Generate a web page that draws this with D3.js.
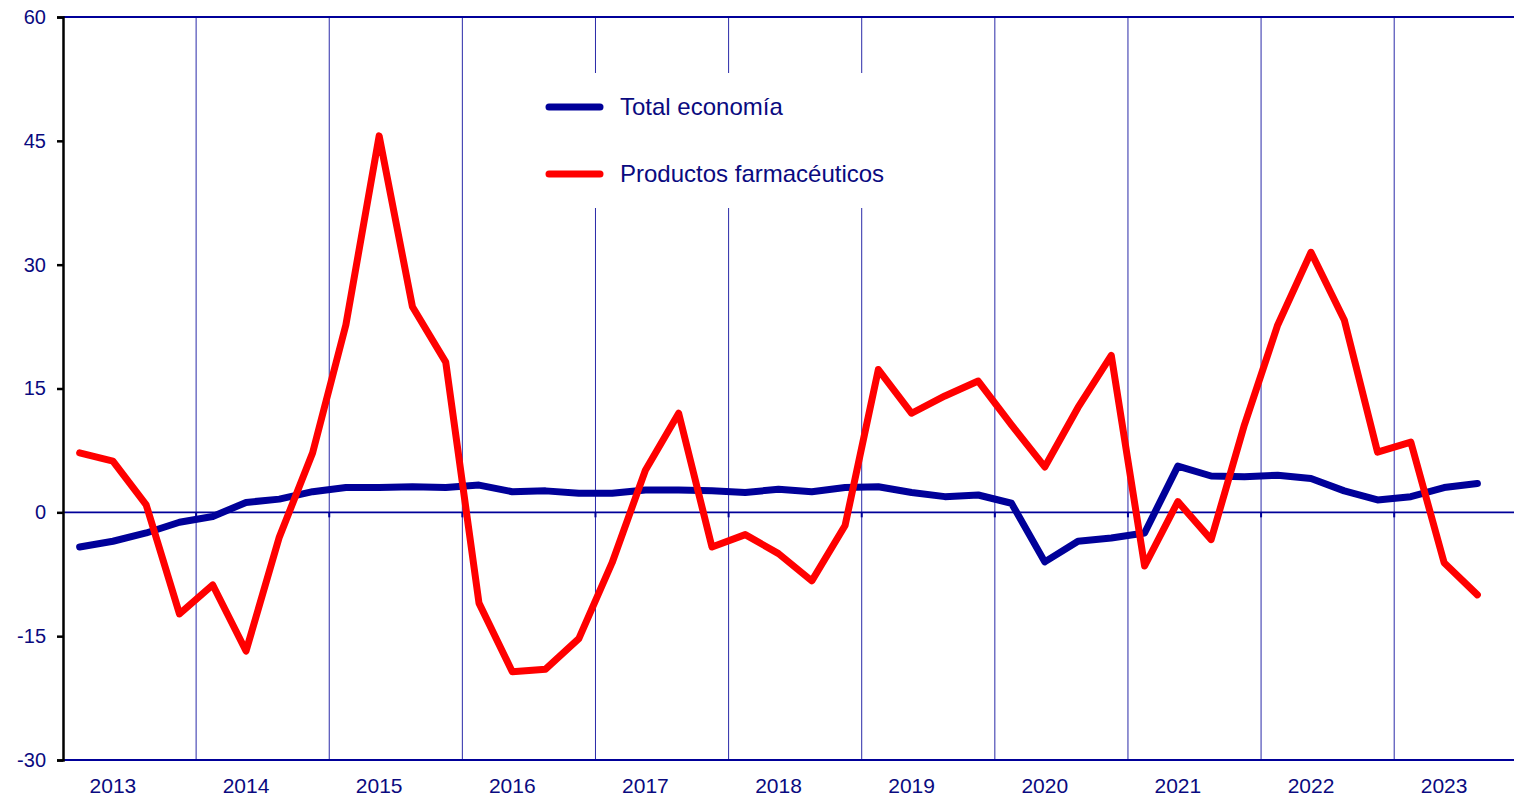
<!DOCTYPE html>
<html><head><meta charset="utf-8">
<script src="https://cdn.jsdelivr.net/npm/d3@7/dist/d3.min.js"></script>
<style>body{margin:0;background:#fff}svg{display:block}text{font-family:"Liberation Sans",Arial,sans-serif}</style>
</head><body>
<svg id="c" width="1514" height="798"></svg>
<script>
const years = ["2013","2014","2015","2016","2017","2018","2019","2020","2021","2022","2023"];
const yTicks = [60,45,30,15,0,-15,-30];
const seriesNames = ["Total economía","Productos farmacéuticos"];
const totalEconomia = [-4.2,-3.5,-2.5,-1.2,-0.5,1.2,1.6,2.5,3.0,3.0,3.1,3.0,3.3,2.5,2.6,2.3,2.3,2.7,2.7,2.6,2.4,2.8,2.5,3.0,3.1,2.4,1.9,2.1,1.1,-6.0,-3.5,-3.1,-2.5,5.6,4.4,4.3,4.5,4.1,2.6,1.5,1.9,3.0,3.5];
const farmaceuticos = [7.2,6.2,0.9,-12.3,-8.8,-16.8,-3.0,7.2,22.7,45.6,24.9,18.2,-11.0,-19.3,-19.0,-15.3,-6.1,5.1,12.0,-4.2,-2.7,-5.0,-8.3,-1.6,17.3,12.0,14.1,15.9,10.6,5.5,12.7,19.0,-6.5,1.3,-3.3,10.6,22.7,31.5,23.3,7.3,8.5,-6.1,-10.0];

const navy = "#000099", txt = "#0a0a80";
const svg = d3.select("#c");
const L = 63, R = 1514, T = 17, B = 760;
const x = d3.scaleLinear().domain([0, 43.6]).range([L, R]);
const y = d3.scaleLinear().domain([-30, 60]).range([B, T]);

// year gridlines
const bounds = d3.range(1, years.length).map(i => i*4);
svg.append("g").selectAll("line").data(bounds).join("line")
  .attr("x1", d => x(d)).attr("x2", d => x(d)).attr("y1", T).attr("y2", B)
  .attr("stroke", "#2a2aa8").attr("stroke-width", 1);

// top & bottom lines
svg.append("line").attr("x1", L).attr("x2", R).attr("y1", y(60)).attr("y2", y(60)).attr("stroke", navy).attr("stroke-width", 2);
svg.append("line").attr("x1", L).attr("x2", R).attr("y1", y(-30)).attr("y2", y(-30)).attr("stroke", navy).attr("stroke-width", 2);

// legend background
svg.append("rect").attr("x", 540).attr("y", 73).attr("width", 345).attr("height", 135).attr("fill", "#fff");

// zero line with ticks
svg.append("line").attr("x1", L).attr("x2", R).attr("y1", y(0)).attr("y2", y(0)).attr("stroke", navy).attr("stroke-width", 1.6);
svg.append("g").selectAll("line").data(bounds).join("line")
  .attr("x1", d => x(d)).attr("x2", d => x(d)).attr("y1", y(0)).attr("y2", y(0)+5)
  .attr("stroke", navy).attr("stroke-width", 2);

// left axis
const yAxis = d3.axisLeft(y).tickValues(yTicks).tickFormat(d => String(d)).tickSize(6).tickPadding(11);
const ga = svg.append("g").attr("transform", `translate(${L},0)`).call(yAxis);
ga.select(".domain").attr("stroke", "#000").attr("stroke-width", 2.5);
ga.selectAll(".tick line").attr("stroke", "#000").attr("stroke-width", 2.5);
ga.selectAll(".tick text").attr("fill", txt).style("font-size", "20px").style("font-family", '"Liberation Sans",Arial,sans-serif');

// x labels
svg.append("g").selectAll("text").data(years).join("text")
  .attr("x", (d, i) => x(i*4 + 1.5)).attr("y", 793)
  .attr("text-anchor", "middle").attr("fill", txt).style("font-size", "21px").text(d => d);

// lines
const line = d3.line().x((d, i) => x(i + 0.5)).y(d => y(d));
svg.append("path").datum(totalEconomia).attr("d", line).attr("fill", "none")
  .attr("stroke", navy).attr("stroke-width", 7).attr("stroke-linejoin", "round").attr("stroke-linecap", "round");
svg.append("path").datum(farmaceuticos).attr("d", line).attr("fill", "none")
  .attr("stroke", "#ff0000").attr("stroke-width", 7).attr("stroke-linejoin", "round").attr("stroke-linecap", "round");

// legend
const colors = [navy, "#ff0000"];
const lg = svg.append("g").selectAll("g").data(seriesNames).join("g")
  .attr("transform", (d, i) => `translate(0,${107 + i*67})`);
lg.append("line").attr("x1", 549).attr("x2", 600).attr("y1", 0).attr("y2", 0)
  .attr("stroke", (d, i) => colors[i]).attr("stroke-width", 7).attr("stroke-linecap", "round");
lg.append("text").attr("x", 620).attr("y", 8).attr("fill", txt).style("font-size", "24px").text(d => d);
</script>
</body></html>
